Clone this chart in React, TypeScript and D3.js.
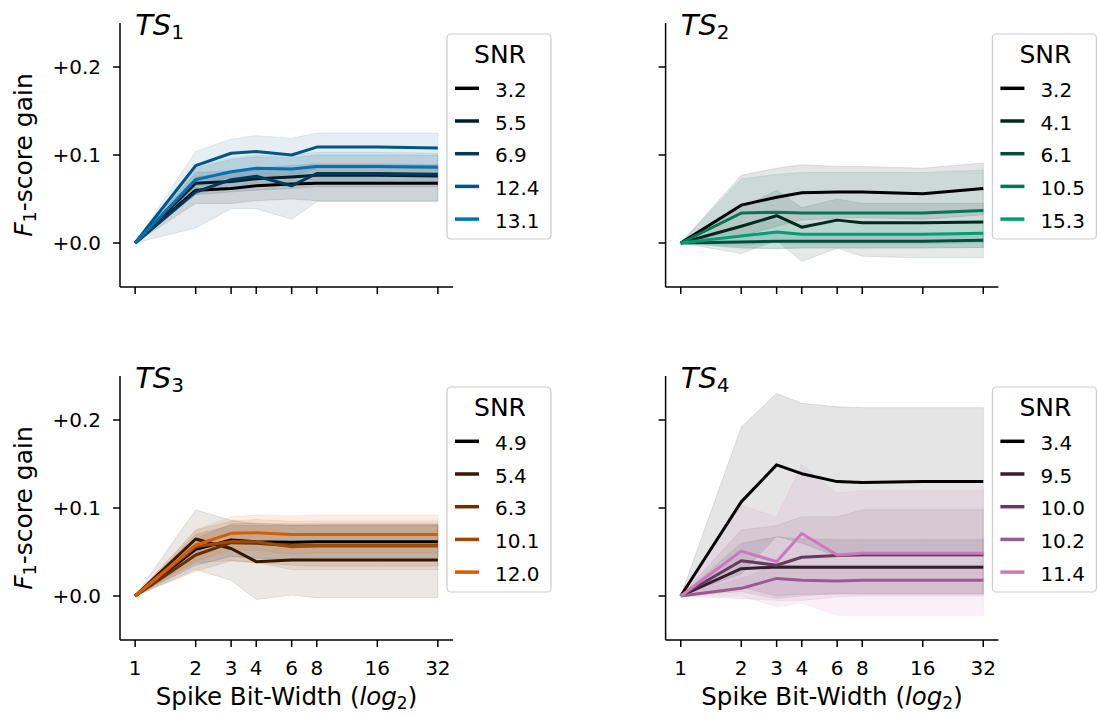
import React from "react";
import * as d3 from "d3";

const X_VALUES = [1, 2, 3, 4, 6, 8, 16, 32];
const Y_TICKS = [0, 0.1, 0.2];
const Y_TICK_LABELS = ["+0.0", "+0.1", "+0.2"];

// TS1
const TS1_SNR = ["3.2", "5.5", "6.9", "12.4", "13.1"];
const TS1_MEAN = [
  [0, 0.060, 0.062, 0.065, 0.067, 0.068, 0.068, 0.068],
  [0, 0.068, 0.070, 0.073, 0.075, 0.077, 0.077, 0.076],
  [0, 0.058, 0.072, 0.076, 0.065, 0.079, 0.079, 0.078],
  [0, 0.088, 0.102, 0.104, 0.100, 0.109, 0.109, 0.108],
  [0, 0.072, 0.081, 0.085, 0.084, 0.087, 0.087, 0.086],
];
const TS1_LOW = [
  [0, 0.045, 0.045, 0.048, 0.050, 0.048, 0.048, 0.048],
  [0, 0.055, 0.058, 0.060, 0.062, 0.064, 0.064, 0.064],
  [0, 0.017, 0.039, 0.039, 0.027, 0.047, 0.047, 0.047],
  [0, 0.065, 0.075, 0.078, 0.075, 0.085, 0.085, 0.085],
  [0, 0.055, 0.065, 0.068, 0.068, 0.070, 0.070, 0.070],
];
const TS1_HIGH = [
  [0, 0.075, 0.080, 0.083, 0.085, 0.088, 0.088, 0.088],
  [0, 0.080, 0.082, 0.085, 0.088, 0.090, 0.090, 0.089],
  [0, 0.085, 0.095, 0.098, 0.097, 0.100, 0.100, 0.100],
  [0, 0.104, 0.118, 0.122, 0.119, 0.125, 0.125, 0.125],
  [0, 0.088, 0.097, 0.100, 0.100, 0.103, 0.103, 0.102],
];

// TS2
const TS2_SNR = ["3.2", "4.1", "6.1", "10.5", "15.3"];
const TS2_MEAN = [
  [0, 0.043, 0.052, 0.057, 0.058, 0.058, 0.056, 0.062],
  [0, 0.019, 0.031, 0.018, 0.026, 0.023, 0.023, 0.024],
  [0, 0.001, 0.002, 0.002, 0.002, 0.002, 0.002, 0.003],
  [0, 0.034, 0.035, 0.034, 0.034, 0.034, 0.034, 0.037],
  [0, 0.008, 0.0125, 0.010, 0.010, 0.010, 0.010, 0.011],
];
const TS2_LOW = [
  [0, 0.008, 0.019, 0.026, 0.028, 0.029, 0.027, 0.032],
  [0, -0.012, 0.003, -0.021, -0.006, -0.015, -0.017, -0.017],
  [0, -0.006, -0.006, -0.006, -0.006, -0.006, -0.006, -0.005],
  [0, -0.005, -0.007, -0.005, -0.005, -0.005, -0.005, -0.005],
  [0, -0.003, 0.0, -0.001, -0.001, -0.001, -0.001, 0.0],
];
const TS2_HIGH = [
  [0, 0.077, 0.085, 0.089, 0.087, 0.087, 0.085, 0.091],
  [0, 0.040, 0.060, 0.040, 0.050, 0.045, 0.045, 0.045],
  [0, 0.008, 0.010, 0.010, 0.010, 0.010, 0.010, 0.010],
  [0, 0.073, 0.078, 0.080, 0.080, 0.080, 0.080, 0.083],
  [0, 0.020, 0.025, 0.022, 0.022, 0.022, 0.022, 0.022],
];

// TS3
const TS3_SNR = ["4.9", "5.4", "6.3", "10.1", "12.0"];
const TS3_MEAN = [
  [0, 0.053, 0.0636, 0.0617, 0.061, 0.0617, 0.0617, 0.0617],
  [0, 0.0648, 0.054, 0.039, 0.041, 0.041, 0.041, 0.041],
  [0, 0.0466, 0.0606, 0.060, 0.057, 0.057, 0.057, 0.057],
  [0, 0.056, 0.062, 0.0617, 0.056, 0.057, 0.057, 0.057],
  [0, 0.058, 0.0712, 0.072, 0.070, 0.070, 0.070, 0.070],
];
const TS3_LOW = [
  [0, 0.035, 0.045, 0.043, 0.042, 0.043, 0.043, 0.043],
  [0, 0.030, 0.018, -0.004, 0.001, -0.002, -0.002, -0.002],
  [0, 0.028, 0.040, 0.038, 0.035, 0.034, 0.034, 0.034],
  [0, 0.038, 0.040, 0.038, 0.030, 0.030, 0.030, 0.030],
  [0, 0.040, 0.052, 0.052, 0.048, 0.049, 0.049, 0.049],
];
const TS3_HIGH = [
  [0, 0.070, 0.080, 0.080, 0.080, 0.080, 0.080, 0.080],
  [0, 0.098, 0.086, 0.082, 0.082, 0.082, 0.082, 0.082],
  [0, 0.065, 0.082, 0.083, 0.080, 0.081, 0.081, 0.081],
  [0, 0.075, 0.085, 0.087, 0.085, 0.085, 0.085, 0.085],
  [0, 0.075, 0.090, 0.092, 0.091, 0.092, 0.092, 0.092],
];

// TS4
const TS4_SNR = ["3.4", "9.5", "10.0", "10.2", "11.4"];
const TS4_MEAN = [
  [0, 0.107, 0.149, 0.139, 0.130, 0.129, 0.130, 0.130],
  [0, 0.031, 0.033, 0.0326, 0.0326, 0.0326, 0.0326, 0.0326],
  [0, 0.040, 0.035, 0.044, 0.046, 0.047, 0.047, 0.047],
  [0, 0.0087, 0.020, 0.018, 0.017, 0.018, 0.018, 0.018],
  [0, 0.051, 0.039, 0.071, 0.0466, 0.0485, 0.0485, 0.0485],
];
const TS4_LOW = [
  [0, 0.025, 0.068, 0.060, 0.045, 0.045, 0.045, 0.045],
  [0, 0.010, 0.000, 0.002, 0.002, 0.002, 0.002, 0.002],
  [0, 0.005, -0.003, 0.000, 0.003, 0.003, 0.003, 0.003],
  [0, -0.003, -0.005, -0.005, -0.001, 0.000, 0.000, 0.000],
  [0, 0.000, -0.012, -0.008, -0.022, -0.022, -0.022, -0.022],
];
const TS4_HIGH = [
  [0, 0.192, 0.230, 0.219, 0.215, 0.214, 0.214, 0.214],
  [0, 0.060, 0.067, 0.065, 0.064, 0.064, 0.064, 0.064],
  [0, 0.075, 0.080, 0.090, 0.090, 0.098, 0.098, 0.098],
  [0, 0.020, 0.035, 0.035, 0.035, 0.035, 0.035, 0.035],
  [0, 0.103, 0.090, 0.149, 0.117, 0.120, 0.120, 0.120],
];

const PANEL_TITLES = ["1", "2", "3", "4"];
const PANEL_BASE_COLORS = ["#0173B2", "#029E73", "#D55E00", "#CC78BC"];

const PANELS = [
  { snr: TS1_SNR, mean: TS1_MEAN, low: TS1_LOW, high: TS1_HIGH },
  { snr: TS2_SNR, mean: TS2_MEAN, low: TS2_LOW, high: TS2_HIGH },
  { snr: TS3_SNR, mean: TS3_MEAN, low: TS3_LOW, high: TS3_HIGH },
  { snr: TS4_SNR, mean: TS4_MEAN, low: TS4_LOW, high: TS4_HIGH },
];

const W = 1097;
const H = 718;
const FONT = "DejaVu Sans, sans-serif";
const COLS = [
  { left: 120, right: 453 },
  { left: 665.6, right: 998.4 },
];
const ROWS = [
  { top: 23, bottom: 287 },
  { top: 376, bottom: 640 },
];

function Panel({ idx }: { idx: number }) {
  const col = COLS[idx % 2];
  const row = ROWS[Math.floor(idx / 2)];
  const isLeft = idx % 2 === 0;
  const isBottom = idx >= 2;
  const p = PANELS[idx];
  const base = PANEL_BASE_COLORS[idx];
  const colors = [0, 0.25, 0.5, 0.75, 1].map((t) => d3.interpolateRgb("#000000", base)(t));

  const x = d3
    .scaleLog()
    .base(2)
    .domain([Math.pow(2, -0.25), Math.pow(2, 5.25)])
    .range([col.left, col.right]);
  const y = d3.scaleLinear().domain([-0.05, 0.25]).range([row.bottom, row.top]);

  const line = d3
    .line<number>()
    .x((_, i) => x(X_VALUES[i]))
    .y((d) => y(d));

  const area = (lo: number[], hi: number[]) =>
    d3
      .area<number>()
      .x((_, i) => x(X_VALUES[i]))
      .y0((_, i) => y(lo[i]))
      .y1((_, i) => y(hi[i]))(X_VALUES.map((v) => v));

  const legX = col.right - 6;
  const legY = row.top + 11;
  const legW = 104;
  const legH = 205;

  return (
    <g>
      {/* bands */}
      {p.mean.map((_, s) => (
        <path
          key={"b" + s}
          d={area(p.low[s], p.high[s]) || ""}
          fill={colors[s]}
          fillOpacity={0.1}
          stroke={colors[s]}
          strokeOpacity={0.1}
          strokeWidth={1}
        />
      ))}
      {/* lines */}
      {p.mean.map((m, s) => (
        <path
          key={"l" + s}
          d={line(m) || ""}
          fill="none"
          stroke={colors[s]}
          strokeWidth={3}
          strokeLinejoin="round"
        />
      ))}
      {/* spines */}
      <line x1={col.left} x2={col.left} y1={row.top} y2={row.bottom} stroke="#000" strokeWidth={1.5} />
      <line x1={col.left} x2={col.right} y1={row.bottom} y2={row.bottom} stroke="#000" strokeWidth={1.5} />
      {/* y ticks */}
      {Y_TICKS.map((t, i) => (
        <g key={"yt" + i}>
          <line x1={col.left - 7} x2={col.left} y1={y(t)} y2={y(t)} stroke="#000" strokeWidth={1.5} />
          {isLeft && (
            <text x={col.left - 19} y={y(t) + 7} textAnchor="end" fontSize={20} fontFamily={FONT}>
              {Y_TICK_LABELS[i]}
            </text>
          )}
        </g>
      ))}
      {/* x ticks */}
      {X_VALUES.map((v, i) => (
        <g key={"xt" + i}>
          <line x1={x(v)} x2={x(v)} y1={row.bottom} y2={row.bottom + 7} stroke="#000" strokeWidth={1.5} />
          {isBottom && (
            <text x={x(v)} y={row.bottom + 35} textAnchor="middle" fontSize={20} fontFamily={FONT}>
              {v}
            </text>
          )}
        </g>
      ))}
      {/* title */}
      <text x={x(1)} y={row.top + 12} fontSize={29} fontFamily={FONT}>
        <tspan fontStyle="italic">TS</tspan>
        <tspan fontSize={20} dy={4}>
          {PANEL_TITLES[idx]}
        </tspan>
      </text>
      {/* y label */}
      {isLeft && (
        <text
          transform={`translate(31.5, ${y(0.1)}) rotate(-90)`}
          textAnchor="middle"
          fontSize={25}
          fontFamily={FONT}
        >
          <tspan fontStyle="italic">F</tspan>
          <tspan fontSize={17.5} dy={4}>1</tspan>
          <tspan dy={-4}>-score gain</tspan>
        </text>
      )}
      {/* x label */}
      {isBottom && (
        <text x={(col.left + col.right) / 2} y={705} textAnchor="middle" fontSize={24.5} fontFamily={FONT}>
          <tspan>Spike Bit-Width (</tspan>
          <tspan fontStyle="italic">log</tspan>
          <tspan fontSize={17} dy={4}>2</tspan>
          <tspan dy={-4}>)</tspan>
        </text>
      )}
      {/* legend */}
      <g>
        <rect
          x={legX}
          y={legY}
          width={legW}
          height={legH}
          rx={4}
          fill="#fff"
          fillOpacity={0.8}
          stroke="#cccccc"
          strokeWidth={1.2}
        />
        <text x={legX + 53} y={legY + 29} textAnchor="middle" fontSize={25} fontFamily={FONT}>
          SNR
        </text>
        {p.snr.map((lab, s) => {
          const ry = legY + 54.3 + s * 32.7;
          return (
            <g key={"lg" + s}>
              <line x1={legX + 8} x2={legX + 32} y1={ry} y2={ry} stroke={colors[s]} strokeWidth={3.5} />
              <text x={legX + 48} y={ry + 8.5} fontSize={20} fontFamily={FONT}>
                {lab}
              </text>
            </g>
          );
        })}
      </g>
    </g>
  );
}

export default function App() {
  return (
    <svg
      width={W}
      height={H}
      viewBox={`0 0 ${W} ${H}`}
      style={{ position: "absolute", left: 0, top: 0, background: "#fff" }}
    >
      <rect x={0} y={0} width={W} height={H} fill="#fff" />
      {[0, 1, 2, 3].map((i) => (
        <Panel key={i} idx={i} />
      ))}
    </svg>
  );
}
